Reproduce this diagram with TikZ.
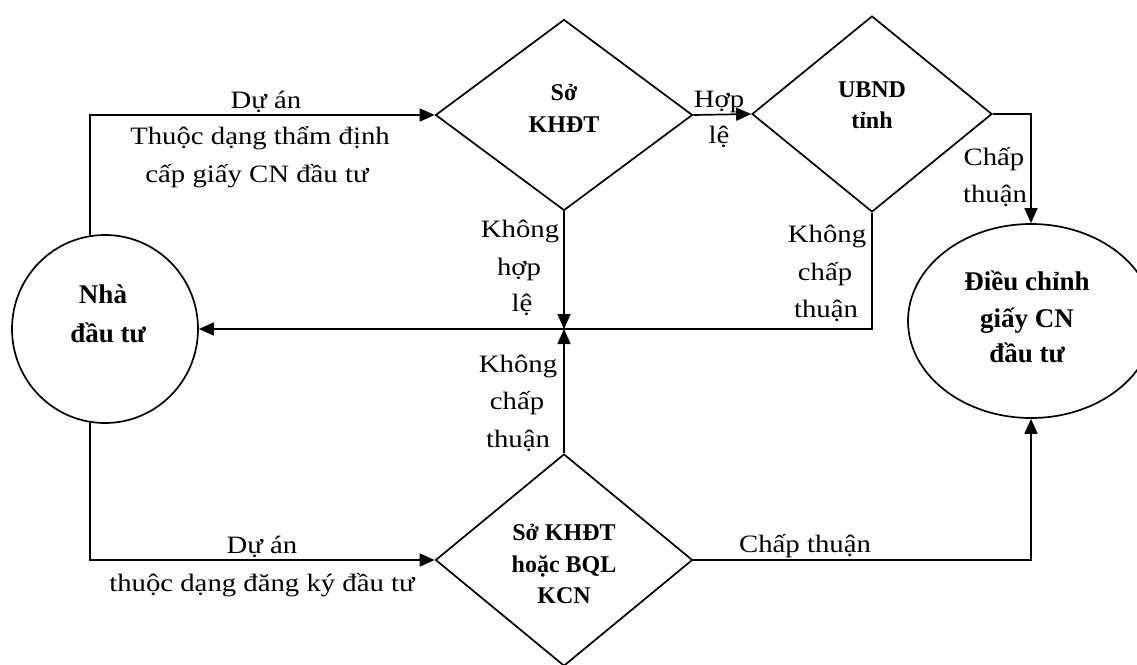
\documentclass[tikz,border=0pt]{standalone}
\usepackage{fontspec}
\setmainfont{Liberation Serif}
\newfontfamily\lblfont[FakeStretch=1.15]{Liberation Serif}
\usetikzlibrary{shapes.geometric,arrows.meta}

\begin{document}
\begin{tikzpicture}[x=1pt,y=-1pt,
  flow/.style={line width=1.7pt,-{Triangle[length=15pt,width=13pt]}},
  decision/.style={diamond,draw,line width=1.7pt,inner sep=0pt},
  terminal/.style={ellipse,draw,line width=1.7pt,inner sep=0pt},
  lbl/.style={anchor=base,inner sep=0pt,font=\lblfont\fontsize{25}{30}\selectfont},
  dtext/.style={anchor=base,inner sep=0pt,font=\bfseries\fontsize{24}{28}\selectfont},
  etext/.style={anchor=base,inner sep=0pt,font=\bfseries\fontsize{27}{32}\selectfont}
]
\useasboundingbox (0,0) rectangle (1137,664);

% main shapes
\node[terminal,minimum width=186pt,minimum height=188pt] (inv) at (105,329) {};
\node[decision,minimum width=257pt,minimum height=191pt] (skh) at (564,115) {};
\node[decision,minimum width=240pt,minimum height=196pt] (ubnd) at (872,114) {};
\node[decision,minimum width=257pt,minimum height=212pt] (bql) at (564,560) {};
\node[terminal,minimum width=246pt,minimum height=194pt] (adj) at (1031,321) {};
\coordinate (J) at (564,329);

% texts inside the shapes
\node[etext] (inv1) at (103,303) {Nhà};
\node[etext] (inv2) at (108,342) {đầu tư};
\node[dtext] (skh1) at (564,100) {Sở};
\node[dtext] (skh2) at (564,132) {KHĐT};
\node[dtext] (ubnd1) at (872,97) {UBND};
\node[dtext] (ubnd2) at (872,128) {tỉnh};
\node[dtext] (bql1) at (564,540) {Sở KHĐT};
\node[dtext] (bql2) at (564,572) {hoặc BQL};
\node[dtext] (bql3) at (564,603) {KCN};
\node[etext] (adj1) at (1027,290) {Điều chỉnh};
\node[etext] (adj2) at (1027,327) {giấy CN};
\node[etext] (adj3) at (1027,362) {đầu tư};

% connectors
\draw[flow] (inv.99) |- (skh.west);
\draw[flow] (skh.east) -- (ubnd.west);
\draw[flow] (ubnd.east) -| (adj.north);
\draw[flow] (skh.south) -- (J);
\draw[flow] (ubnd.south) |- (inv.east);
\draw[flow] (bql.north) -- (J);
\draw[flow] (inv.261) |- (bql.west);
\draw[flow] (bql.east) -| (adj.south);

% connector labels
\node[lbl] (t1) at (266,108) {Dự án};
\node[lbl] (t2) at (260,144) {Thuộc dạng thẩm định};
\node[lbl] (t3) at (257,182) {cấp giấy CN đầu tư};
\node[lbl] (h1) at (719,107) {Hợp};
\node[lbl] (h2) at (719,143) {lệ};
\node[lbl] (c1) at (994,165) {Chấp};
\node[lbl] (c2) at (995,202) {thuận};
\node[lbl] (k1) at (520,237) {Không};
\node[lbl] (k2) at (519,275) {hợp};
\node[lbl] (k3) at (522,311) {lệ};
\node[lbl] (r1) at (827,242) {Không};
\node[lbl] (r2) at (825,280) {chấp};
\node[lbl] (r3) at (826,317) {thuận};
\node[lbl] (b1) at (518,372) {Không};
\node[lbl] (b2) at (517,409) {chấp};
\node[lbl] (b3) at (518,447) {thuận};
\node[lbl] (d1) at (262,553) {Dự án};
\node[lbl] (d2) at (262,591) {thuộc dạng đăng ký đầu tư};
\node[lbl] (a1) at (805,552) {Chấp thuận};
\end{tikzpicture}
\end{document}
